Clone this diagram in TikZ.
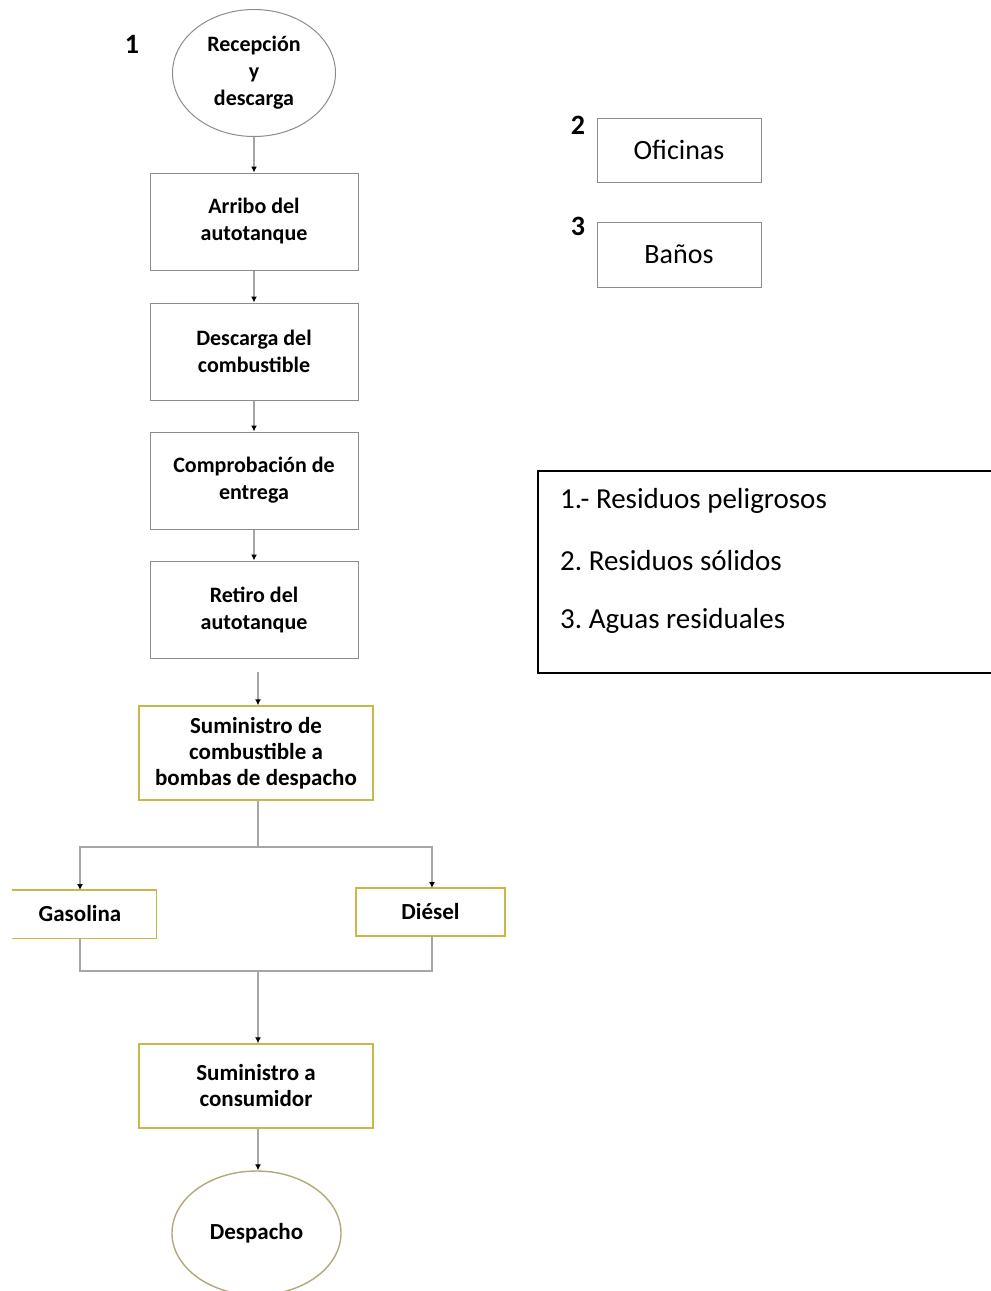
\documentclass[tikz,border=0pt]{standalone}
\usepackage{fontspec}
\setmainfont{Carlito}
\usetikzlibrary{arrows.meta,shapes.geometric}
\frenchspacing
\definecolor{boxgray}{HTML}{8C8C8C}
\definecolor{linegray}{HTML}{A6A6A6}
\definecolor{olive}{HTML}{C8B84A}
\definecolor{tan}{HTML}{B3A87A}
\tikzset{
  stepbox/.style={draw=boxgray, line width=1pt, minimum width=208pt, minimum height=97pt, align=center, font=\bfseries\fontsize{22}{27}\selectfont, inner sep=0pt},
  ybox/.style={draw=olive, line width=1.4pt, minimum width=234pt, align=center, font=\bfseries\fontsize{23}{26}\selectfont, inner sep=0pt},
  gbox/.style={draw=boxgray, line width=1pt, minimum width=164pt, minimum height=64pt, font=\fontsize{28}{30}\selectfont, inner sep=0pt},
  num/.style={font=\bfseries\fontsize{28}{30}\selectfont, inner sep=0pt},
  legtext/.style={anchor=west, font=\fontsize{29}{32}\selectfont, inner sep=0pt},
  conn/.style={draw=linegray, line width=1.3pt},
  arr/.style={conn, -{Latex[length=6pt,width=6pt,color=black]}},
}
\begin{document}
\begin{tikzpicture}[x=1pt,y=-1pt]
\useasboundingbox (0,0) rectangle (991,1291);
\begin{scope}
\clip (0,0) rectangle (991,1291);
% labels
\node[num] (n1) at (132,44) {1};
\node[ellipse, draw=boxgray, line width=1pt, minimum width=163pt, minimum height=127pt, align=center, font=\bfseries\fontsize{22}{27}\selectfont, inner sep=0pt] (rec) at (254,73) {Recepción\\y\\descarga};
\node[stepbox] (arr1) at (254,221.5) {Arribo del\\autotanque};
\node[stepbox] (des) at (254,351.5) {Descarga del\\combustible};
\node[stepbox] (com) at (254,480.5) {Comprobación de\\entrega};
\node[stepbox] (ret) at (254,609.5) {Retiro del\\autotanque};
\node[ybox, minimum height=94pt] (sum) at (256,753) {Suministro de\\combustible a\\bombas de despacho};
\node[minimum width=144pt, minimum height=48pt, font=\bfseries\fontsize{23}{24}\selectfont, inner sep=0pt] (gas) at (84,914) {\hspace*{-8pt}Gasolina};
\draw[olive, line width=1.4pt] (gas.north west) -- (gas.north east) -- (gas.south east) -- (gas.south west);
\node[draw=olive, line width=1.4pt, minimum width=149pt, minimum height=48pt, font=\bfseries\fontsize{23}{24}\selectfont, inner sep=0pt] (die) at (430.5,912) {Diésel};
\node[ybox, minimum height=84pt] (cons) at (256,1086) {Suministro a\\consumidor};
\node[ellipse, draw=tan, line width=1.4pt, minimum width=169pt, minimum height=124pt, font=\bfseries\fontsize{23}{24}\selectfont, inner sep=0pt] (desp) at (256.5,1233) {Despacho};
% right side
\node[num] (n2) at (578,125) {2};
\node[gbox] (ofi) at (679,150) {Oficinas};
\node[num] (n3) at (578,226) {3};
\node[gbox, minimum height=65pt] (ban) at (679,254.5) {Baños};
% legend
\draw[black, line width=1.5pt] (991,471) -- (538,471) -- (538,673) -- (991,673);
\node[legtext] (l1) at (560,501) {1.- Residuos peligrosos};
\node[legtext] (l2) at (560,561) {2. Residuos sólidos};
\node[legtext] (l3) at (560,621) {3. Aguas residuales};
% connectors
\draw[arr] (rec.south) -- (rec.south |- arr1.north);
\draw[arr] (arr1.south) -- (des.north);
\draw[arr] (des.south) -- (com.north);
\draw[arr] (com.south) -- (ret.north);
\coordinate (c1) at (258,672);
\draw[arr] (c1) -- (c1 |- sum.north);
\coordinate (split) at (258,847);
\coordinate (join) at (258,971);
\draw[conn] (sum.south -| split) -- (split);
\draw[arr] (split) -| (80,890);
\draw[arr] (split) -| (432,888);
\draw[conn] (80,938) |- (join) -| (432,936);
\draw[arr] (join) -- (join |- cons.north);
\draw[arr] (cons.south -| join) -- (join |- desp.north);
\end{scope}
\end{tikzpicture}
\end{document}
